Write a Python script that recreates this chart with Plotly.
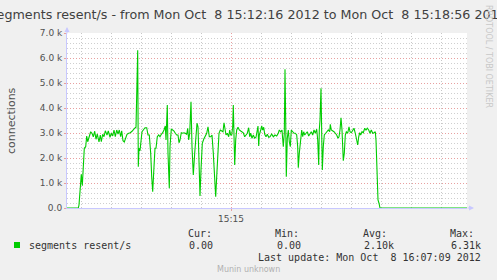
import pandas as pd
import plotly.graph_objects as go

# ---------------- data ----------------
start_time = "2012-10-08 15:12:16"
end_time = "2012-10-08 15:18:56"
seconds = [0, 11.3, 12, 13.7, 14.3, 15.3, 16.3, 17.3, 18.7, 19.7, 20.7, 22.3, 23.7, 25, 26.3, 27.7, 29, 30.3, 32,
           33.3, 34.3, 35.7, 37, 38.3, 40, 41.3, 43, 44.3, 45.7, 47, 48.3, 49.7, 51, 52.3, 53.7, 54.7, 56, 57.3,
           58.7, 60, 61.7, 63.3, 65, 66.3, 67.7, 69, 70.7, 71.3, 72, 73, 74, 75, 76.3, 78, 79.7, 81, 82.3, 83.7,
           84.7, 85.7, 87, 88, 89, 90.3, 91.7, 93, 94.3, 95.7, 97, 98.3, 99, 99.7, 100.3, 101, 101.7, 102.3, 103,
           104.3, 105.7, 107, 108.3, 109.7, 111, 112, 113, 114.3, 115.7, 117, 118.3, 119.7, 120.7, 121.7, 122.7,
           124, 125, 125.7, 126.3, 127.7, 129, 130, 131, 132, 133, 134, 135.3, 136.7, 138.3, 139.7, 141, 142.3,
           143.7, 145, 146.3, 147.7, 148.7, 149.7, 151, 152, 153.3, 154.7, 156, 157, 158, 159, 160.3, 161.7,
           162.7, 163.7, 164.7, 165.7, 166.3, 167, 167.7, 168.7, 169.7, 171, 172.3, 173.7, 175, 176.3, 177.7,
           179, 180.3, 181.7, 182.7, 183.7, 185, 186.3, 187.7, 189, 190.3, 191, 191.7, 192.3, 193.7, 194.7,
           195.7, 196.7, 197.7, 199, 200.3, 201.7, 203, 204.7, 206.3, 208, 209.7, 211.3, 212.3, 213.7, 215,
           216.3, 217.3, 218, 218.7, 219.3, 220.3, 221.3, 222.3, 223.3, 224.3, 225.7, 227, 228.3, 229.7, 230.7,
           231.3, 232.3, 233.7, 234.7, 235.7, 236.7, 237.7, 239, 240.3, 241.7, 243, 244.3, 245.7, 247, 248.3,
           249.7, 250.7, 251.7, 252.3, 253, 254, 254.7, 255.3, 256.3, 257.3, 258.7, 260, 261.3, 262.7, 263.3,
           264.3, 265.7, 267, 268.3, 269.7, 271, 272, 273, 274, 275, 275.7, 276.3, 277.3, 278.3, 279.3, 280.7,
           282, 283, 284.3, 285.7, 287, 288.3, 289.7, 290.7, 291.7, 292.7, 293.7, 295, 296.3, 297.7, 299, 300.3,
           301.7, 303, 304.3, 305.7, 307, 308.3, 309, 309.7, 310.3, 311, 312, 313, 400]
resent = [0, 0, 120, 990, 1350, 890, 1920, 2390, 2450, 2880, 2650, 2920, 3050, 2990, 2850, 3070, 2750, 2960, 2640,
          2920, 2650, 2950, 2850, 3090, 2920, 3080, 2830, 2990, 2880, 3120, 2850, 3120, 2960, 3120, 2850, 3090,
          2690, 2640, 2850, 2950, 2990, 3010, 3070, 3150, 3190, 3230, 6310, 1650, 2390, 2290, 2850, 3050, 3120,
          3210, 3210, 2920, 2920, 2190, 1250, 650, 1650, 2390, 2390, 2850, 2920, 2850, 2950, 3010, 3120, 3280,
          2720, 3250, 4120, 2190, 790, 790, 2450, 3150, 3120, 3080, 2990, 2920, 2920, 2610, 2720, 3010, 2990,
          3010, 2990, 2950, 3190, 2720, 2990, 4250, 2450, 1390, 1320, 2190, 2990, 3390, 3250, 1790, 480, 1520,
          2590, 2750, 2850, 2990, 3250, 2850, 2850, 2920, 2190, 1120, 450, 1250, 2250, 2990, 3120, 3090, 3050,
          3410, 3190, 2920, 2990, 2850, 3120, 2920, 2920, 3250, 4120, 2190, 1720, 2720, 3120, 3230, 3120, 3080,
          3050, 3010, 2850, 2920, 2990, 3210, 2850, 2990, 2790, 2920, 2790, 2830, 3050, 3280, 2480, 2920, 3120,
          3280, 3120, 3230, 2950, 2850, 2950, 2830, 2850, 2960, 2850, 2920, 2880, 2990, 3120, 3050, 3120, 2450,
          2990, 5550, 3520, 1250, 2790, 3120, 2650, 2450, 3120, 3050, 2990, 2990, 2920, 2450, 1610, 2190, 2920,
          3120, 2850, 3050, 2920, 2990, 3050, 2880, 2990, 3050, 2920, 3120, 2990, 3150, 2720, 1720, 3120, 3520,
          4790, 2850, 1520, 2450, 2920, 2990, 3050, 3120, 3050, 3350, 3120, 3090, 3050, 2990, 2920, 2790, 2850,
          3120, 3610, 3120, 2590, 1890, 2190, 2920, 3050, 2990, 3250, 3050, 3010, 3120, 3190, 2990, 2650, 2520,
          2850, 3010, 2920, 3050, 3010, 3190, 3120, 3190, 3120, 2990, 3120, 2990, 3010, 3050, 2720, 1920, 1120,
          320, 190, 0, 0]

y_tick_values = [0, 1000, 2000, 3000, 4000, 5000, 6000, 7000]
y_tick_labels = ["0.0", "1.0 k", "2.0 k", "3.0 k", "4.0 k", "5.0 k", "6.0 k", "7.0 k"]
x_tick_values = ["2012-10-08 15:15:00"]
x_tick_labels = ["15:15"]

series_name = "segments resent/s"
stat_labels = ["Cur:", "Min:", "Avg:", "Max:"]
stat_values = ["0.00", "0.00", "2.10k", "6.31k"]
title_text = "segments resent/s - from Mon Oct\u00a0\u00a08 15:12:16 2012 to Mon Oct\u00a0\u00a08 15:18:56 2012"
last_update = "Last update: Mon Oct\u00a0\u00a08 16:07:09 2012"
y_title = "connections"
side_credit = "RRDTOOL / TOBI OETIKER"
footer = "Munin unknown"

# ---------------- layout helpers ----------------
W, H = 497, 280
L, R, T, B = 67, 467, 33, 208


def px(x):
    return (x - L) / (R - L)


def py(y):
    return (B - y) / (B - T)


times = pd.Timestamp(start_time) + pd.to_timedelta(seconds, unit="s")

fig = go.Figure()
fig.add_trace(go.Scatter(x=times, y=resent, mode="lines", name=series_name,
                         line=dict(color="#00CC00", width=1.1), showlegend=False,
                         hoverinfo="skip"))

mono = "DejaVu Sans Mono"
sans = "DejaVu Sans"
ann = []
# title
ann.append(dict(text=title_text, x=px(248.5), y=py(14), xref="paper", yref="paper",
                showarrow=False, xanchor="center", yanchor="middle",
                font=dict(family=sans, size=12.7, color="#404040")))
# y title
ann.append(dict(text=y_title, x=px(11.5), y=py(120.5), xref="paper", yref="paper",
                showarrow=False, textangle=-90, xanchor="center", yanchor="middle",
                font=dict(family=sans, size=11, color="#505050")))
# credit
ann.append(dict(text=side_credit, x=px(489), y=py(56), xref="paper", yref="paper",
                showarrow=False, textangle=90, xanchor="center", yanchor="middle",
                font=dict(family=sans, size=8, color="#c8c8c8")))
# legend
ann.append(dict(text=series_name, x=px(26.5), y=py(245.3), xref="paper", yref="paper",
                showarrow=False, xanchor="left", yanchor="middle",
                font=dict(family=mono, size=10, color="#333333")))
label_x = [185.7, 273.3, 361, 447.7]
value_right = [215, 303.3, 396, 483.3]
for lab, val, lx, vx in zip(stat_labels, stat_values, label_x, value_right):
    ann.append(dict(text=lab, x=px(lx), y=py(233.7), xref="paper", yref="paper",
                    showarrow=False, xanchor="left", yanchor="middle",
                    font=dict(family=mono, size=10, color="#333333")))
    ann.append(dict(text=val, x=px(vx), y=py(245.3), xref="paper", yref="paper",
                    showarrow=False, xanchor="right", yanchor="middle",
                    font=dict(family=mono, size=10, color="#333333")))
ann.append(dict(text=last_update, x=px(483.3), y=py(257.3), xref="paper", yref="paper",
                showarrow=False, xanchor="right", yanchor="middle",
                font=dict(family=mono, size=10, color="#333333")))
ann.append(dict(text=footer, x=px(248.5), y=py(269), xref="paper", yref="paper",
                showarrow=False, xanchor="center", yanchor="middle",
                font=dict(family=sans, size=8, color="#b0b0b0")))
# axis arrows
ann.append(dict(x=px(474), y=py(208), xref="paper", yref="paper", ax=-8, ay=0,
                showarrow=True, arrowhead=2, arrowsize=1, arrowwidth=1,
                arrowcolor="#c8c8ff", text=""))
ann.append(dict(x=px(67), y=py(27), xref="paper", yref="paper", ax=0, ay=8,
                showarrow=True, arrowhead=2, arrowsize=1, arrowwidth=1,
                arrowcolor="#c8c8ff", text=""))

fig.update_layout(
    width=W, height=H,
    margin=dict(l=L, r=W - R, t=T, b=H - B, pad=0),
    paper_bgcolor="#F0F0F0", plot_bgcolor="#FFFFFF",
    annotations=ann,
    shapes=[dict(type="rect", xref="paper", yref="paper", x0=px(14), x1=px(20),
                 y0=py(248), y1=py(242), fillcolor="#00CC00", line=dict(width=0))],
    showlegend=False,
)
fig.update_xaxes(
    type="date", range=[start_time, end_time],
    tickmode="array", tickvals=x_tick_values, ticktext=x_tick_labels,
    showgrid=True, gridcolor="#e8a0a0", griddash="1px,2px", gridwidth=1,
    ticks="outside", ticklen=2, tickcolor="#e8a0a0",
    tickfont=dict(family=sans, size=9, color="#505050"),
    showline=True, linecolor="#c8c8ff", linewidth=1, zeroline=False,
    minor=dict(dtick=30000, tick0="2012-10-08 15:12:30", showgrid=True,
               gridcolor="#c8c8c8", griddash="1px,2px", gridwidth=1),
)
fig.update_yaxes(
    range=[0, 7000], tickmode="array", tickvals=y_tick_values, ticktext=y_tick_labels,
    showgrid=True, gridcolor="#e8a0a0", griddash="1px,2px", gridwidth=1,
    ticks="outside", ticklen=2, tickcolor="#e8a0a0",
    tickfont=dict(family=sans, size=9, color="#505050"),
    showline=True, linecolor="#c8c8ff", linewidth=1, zeroline=False,
    minor=dict(dtick=200, tick0=0, showgrid=True,
               gridcolor="#cfcfcf", griddash="1px,2px", gridwidth=1),
)

fig.write_html("out.html")
